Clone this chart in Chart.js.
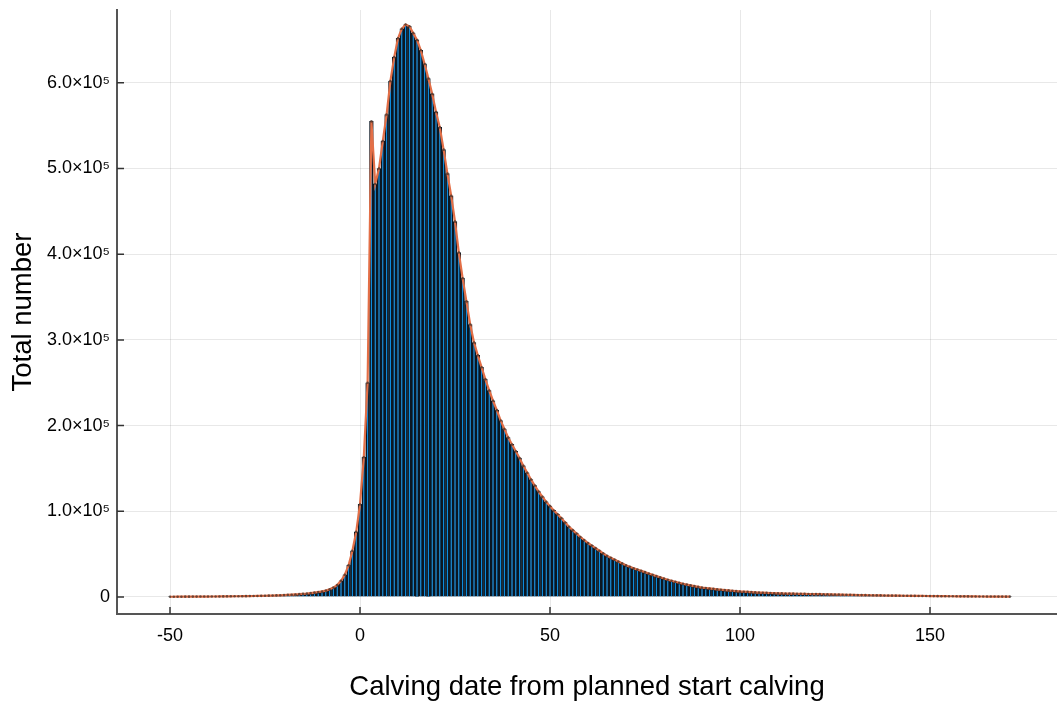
<!DOCTYPE html>
<html>
<head>
<meta charset="utf-8">
<script src="https://cdn.jsdelivr.net/npm/chart.js@4.4.1/dist/chart.umd.min.js"></script>
<style>
  html, body { margin: 0; padding: 0; background: #ffffff; }
  #wrap { width: 1057px; height: 708px; position: relative; }
</style>
</head>
<body>
<div id="wrap"><canvas id="c" width="1057" height="708"></canvas></div>
<script>
// ---- data ----
const firstDay = -50;               // first histogram bin (days from planned start calving)
const countsLeftTail = [300,300,350,350,400,400,450,450,500,500,550,600,600,650,700,750,800,850,900,950,
  1000,1100,1150,1250,1350,1450,1550,1700,1850,2000,2200,2450,2700,3000,3300,3700,4100,4600,5200,5800]; // -50..-11
const countsRise = [6500,7500,9000,11000,14000,19000,26000,37000,54000,76000,108000,163000,250000]; // -10..2
const countsPeak = [555000,482000,500000,532000,563000,602000,630000,652000,663000,668000,666000,658000,
  650000,638000,622000,605000,587000,566000,548000,522000,494000,468000,438000,402000,372000,345000,318000,297000]; // 3..30
const countsDecline = [282000,268000,254000,241000,229000,218000,206000,196000,186000,178000,170000,162000,
  153000,145000,137000,130000,123000,117000,111000]; // 31..49
const countsTail = [106000,101000,96500,92000,87000,82000,78000,74000,70000,66500,63000,60000,57000,54000,51000,
  48000,45800,43600,41400,39200,37000,35300,33600,32000,30500,29000,27400,25900,24400,23000,21500,20200,19000,
  17800,16600,15500,14500,13600,12700,11800,11000,10500,10000,9500,9000,8500,8100,7700,7300,6900]; // 50..99
const countsFarTail = [6500,6200,5950,5700,5450,5200,5000,4800,4650,4450,4300,4200,4100,4000,3900,3800,3700,3600,
  3500,3450,3400,3300,3200,3100,3000,2900,2800,2700,2600,2500,2400,2300,2200,2150,2050,2000,1900,1850,1750,1700,
  1650,1600,1500,1450,1400,1350,1300,1250,1200,1150,1100,1050,1000,950,920,900,850,800,780,740,700,670,640,610,
  580,550,530,500,470,450,420,400]; // 100..171

const xTicks = [-50, 0, 50, 100, 150];
const yTicks = [0, 100000, 200000, 300000, 400000, 500000, 600000];
const xTitle = 'Calving date from planned start calving';
const yTitle = 'Total number';

// ---- build ----
const counts = [].concat(countsLeftTail, countsRise, countsPeak, countsDecline, countsTail, countsFarTail);
const points = counts.map((v, i) => ({ x: firstDay + i, y: v }));

function fmtY(v) {
  if (v === 0) return '0';
  return (v / 100000).toFixed(1) + '×10⁵';
}

const innerTicks = {
  id: 'innerTicks',
  afterDraw(chart) {
    const { ctx, chartArea, scales } = chart;
    ctx.save();
    ctx.strokeStyle = '#333333';
    ctx.lineWidth = 1.5;
    ctx.beginPath();
    for (const t of xTicks) {
      const px = scales.x.getPixelForValue(t);
      ctx.moveTo(px, chartArea.bottom);
      ctx.lineTo(px, chartArea.bottom - 7);
    }
    for (const t of yTicks) {
      const py = scales.y.getPixelForValue(t);
      ctx.moveTo(chartArea.left, py);
      ctx.lineTo(chartArea.left + 7, py);
    }
    ctx.stroke();
    ctx.restore();
  }
};

function zeroPad(s) { s.paddingTop = 0; s.paddingBottom = 0; s.paddingLeft = 0; s.paddingRight = 0; }

const FONT = "'Liberation Sans', Arial, Helvetica, sans-serif";

new Chart(document.getElementById('c'), {
  type: 'bar',
  data: {
    datasets: [
      {
        type: 'line',
        data: points,
        borderColor: '#E36F47',
        borderWidth: 2.2,
        pointRadius: 1.3,
        pointBackgroundColor: 'rgba(70,50,40,0.75)',
        pointBorderWidth: 0,
        tension: 0,
        order: 0
      },
      {
        type: 'bar',
        data: points,
        backgroundColor: '#0a8fe6',
        borderColor: '#0b1722',
        borderWidth: 1.7,
        barPercentage: 1.0,
        categoryPercentage: 1.0,
        order: 1
      }
    ]
  },
  options: {
    responsive: false,
    animation: false,
    events: [],
    layout: { autoPadding: false, padding: { top: 10, right: 0, left: 0, bottom: 0 } },
    plugins: { legend: { display: false }, tooltip: { enabled: false } },
    scales: {
      x: {
        type: 'linear',
        offset: false,
        min: -63.95,
        max: 183.42,
        afterFit(s) { s.height = 94; zeroPad(s); },
        afterBuildTicks(s) { s.ticks = xTicks.map(v => ({ value: v })); },
        grid: { color: 'rgba(0,0,0,0.09)', lineWidth: 1, drawTicks: false, offset: false },
        border: { display: true, color: '#555555', width: 2 },
        ticks: { font: { family: FONT, size: 18 }, color: '#000', padding: 11, maxRotation: 0, autoSkip: false },
        title: { display: true, text: xTitle, font: { family: FONT, size: 27.5 }, color: '#000', padding: { top: 0, bottom: 4 } }
      },
      y: {
        type: 'linear',
        min: -19837,
        max: 684947,
        afterFit(s) { s.width = 117; zeroPad(s); },
        afterBuildTicks(s) { s.ticks = yTicks.map(v => ({ value: v })); },
        grid: { color: 'rgba(0,0,0,0.09)', lineWidth: 1, drawTicks: false },
        border: { display: true, color: '#555555', width: 2 },
        ticks: { font: { family: FONT, size: 18 }, color: '#000', padding: 7, callback: fmtY },
        title: { display: true, text: yTitle, font: { family: FONT, size: 27.5 }, color: '#000', padding: { top: 7, bottom: 0 } }
      }
    }
  },
  plugins: [innerTicks]
});
</script>
</body>
</html>
